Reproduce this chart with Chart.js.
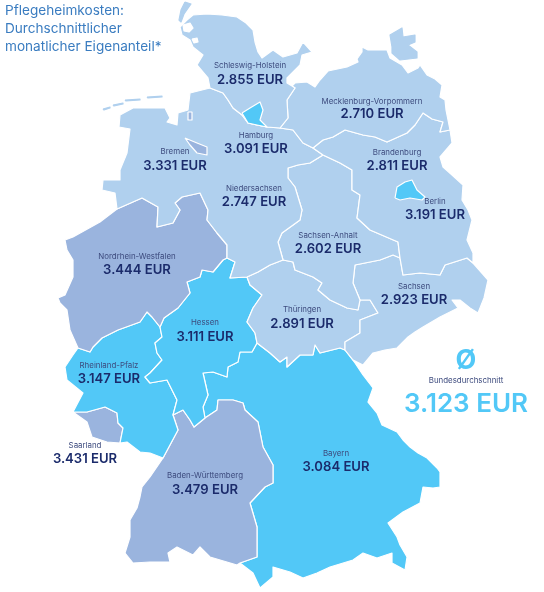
<!DOCTYPE html>
<html lang="de">
<head>
<meta charset="utf-8">
<title>Pflegeheimkosten</title>
<script src="https://cdn.jsdelivr.net/npm/chart.js@4"></script>
<style>
  html, body { margin: 0; padding: 0; background: #fff; }
  canvas { display: block; }
</style>
</head>
<body>
<canvas id="map" width="544" height="592"></canvas>
<script>
// values
const stateNames = ['Schleswig-Holstein', 'Mecklenburg-Vorpommern', 'Hamburg', 'Bremen', 'Brandenburg', 'Berlin',
  'Niedersachsen', 'Nordrhein-Westfalen', 'Sachsen-Anhalt', 'Sachsen', 'Thüringen', 'Hessen',
  'Rheinland-Pfalz', 'Saarland', 'Baden-Württemberg', 'Bayern'];
const stateCosts = [2855, 2710, 3091, 3331, 2811, 3191, 2747, 3444, 2602, 2923, 2891, 3111, 3147, 3431, 3479, 3084];
const nationalLabel = 'Bundesdurchschnitt';
const nationalCost = 3123;
const titleLines = ['Pflegeheimkosten:', 'Durchschnittlicher', 'monatlicher Eigenanteil*'];

// state outlines, x,y pairs in map units
const shSH = [193,15, 207,14, 222,15, 237,17, 246,23, 253,30, 255,42, 258,52, 262,58, 273,50, 283,57, 297,53, 303,42, 312,52, 302,55, 300,65, 287,78, 287,83, 292,86, 295,88, 287,100, 288,118, 280,128, 267,127, 257,125, 248,123, 242,115, 233,108, 228,100, 223,93, 210,88, 208,78, 197,65, 203,55, 193,47, 190,40, 182,35, 180,27, 187,20];
const shMV = [292,86, 295,83, 307,82, 315,87, 320,80, 328,71, 347,67, 358,62, 357,59, 362,52, 362,47, 368,50, 382,50, 387,50, 390,58, 402,65, 408,73, 418,68, 420,65, 427,75, 435,79, 442,85, 440,97, 445,100, 446,110, 450,130, 440,132, 443,122, 432,119, 423,113, 415,125, 407,133, 387,142, 375,137, 363,135, 345,130, 333,137, 323,140, 313,148, 303,143, 293,130, 280,128, 288,118, 287,100, 295,88];
const shHH = [242,113, 250,108, 260,102, 263,110, 260,120, 267,127, 257,125, 248,123];
const shHB = [185,138, 197,143, 207,147, 207,155, 197,153, 190,145];
const shBB = [313,148, 323,140, 333,137, 345,130, 363,135, 375,137, 387,142, 407,133, 415,125, 423,113, 432,119, 443,122, 440,132, 450,130, 452,143, 446,150, 440,157, 443,167, 452,175, 463,185, 462,200, 468,210, 472,220, 467,240, 473,253, 473,263, 467,258, 445,265, 440,275, 420,273, 403,275, 400,258, 398,242, 370,230, 357,218, 360,195, 352,190, 352,170, 340,163, 323,155];
const shBE = [395,198, 397,187, 405,182, 412,180, 417,190, 425,197, 422,200, 410,198, 400,200];
const shNI = [210,88, 223,93, 228,100, 233,108, 242,115, 248,123, 257,125, 267,127, 280,128, 293,130, 303,143, 313,148, 323,155, 310,163, 298,165, 288,168, 288,178, 295,187, 302,210, 300,220, 282,233, 278,242, 283,260, 270,265, 258,272, 247,277, 230,278, 235,262, 227,258, 227,245, 217,233, 207,220, 208,210, 200,193, 182,197, 175,203, 180,210, 173,223, 157,227, 158,207, 142,198, 117,209, 115,193, 102,190, 103,180, 120,180, 120,170, 127,153, 130,129, 119,127, 120,115, 133,108, 165,108, 170,118, 167,122, 177,125, 178,113, 188,110, 190,93];
const shNW = [117,209, 142,198, 158,207, 157,227, 173,223, 180,210, 175,203, 182,197, 200,193, 208,210, 207,220, 217,233, 227,245, 227,258, 223,260, 213,272, 202,270, 200,277, 187,282, 190,293, 178,308, 164,318, 160,327, 152,317, 147,312, 140,322, 118,330, 102,338, 93,347, 90,352, 78,348, 70,330, 67,310, 60,303, 58,298, 65,295, 73,277, 73,260, 67,250, 65,240, 73,237, 100,222];
const shST = [323,155, 340,163, 352,170, 352,190, 360,195, 357,218, 370,230, 398,242, 400,258, 393,255, 380,260, 355,265, 353,283, 360,300, 358,310, 347,308, 330,300, 318,290, 322,283, 313,277, 295,270, 293,262, 283,260, 278,242, 282,233, 300,220, 302,210, 295,187, 288,178, 288,168, 298,165, 310,163];
const shSN = [400,258, 403,275, 420,273, 440,275, 445,265, 467,258, 473,263, 488,280, 484,298, 478,313, 470,308, 460,300, 452,300, 458,308, 440,317, 423,327, 415,332, 408,337, 397,348, 385,350, 373,353, 363,365, 353,360, 345,350, 345,342, 360,333, 360,320, 378,313, 370,300, 360,300, 353,283, 355,265, 380,260, 393,255];
const shTH = [283,260, 293,262, 295,270, 313,277, 322,283, 318,290, 330,300, 347,308, 358,310, 360,300, 370,300, 378,313, 360,320, 360,333, 345,342, 345,350, 340,348, 320,353, 315,345, 313,355, 300,355, 287,367, 287,357, 280,362, 270,353, 257,343, 255,333, 247,322, 253,308, 262,295, 250,285, 247,277, 258,272, 270,265];
const shHE = [223,260, 227,258, 235,262, 230,278, 247,277, 250,285, 262,295, 253,308, 247,322, 255,333, 257,343, 252,352, 240,352, 238,362, 228,367, 227,377, 213,372, 203,373, 208,395, 203,407, 205,418, 194,427, 190,420, 183,410, 173,415, 177,400, 172,390, 167,380, 150,383, 145,377, 150,373, 162,360, 157,353, 155,343, 162,337, 160,327, 164,318, 178,308, 190,293, 187,282, 200,277, 202,270, 213,272];
const shRP = [78,348, 90,352, 93,347, 102,338, 118,330, 140,322, 147,312, 152,317, 160,327, 162,337, 155,343, 157,353, 162,360, 150,373, 145,377, 150,383, 167,380, 172,390, 177,400, 173,415, 178,430, 163,458, 150,453, 140,452, 127,442, 120,443, 123,428, 118,423, 117,413, 105,407, 87,412, 73,412, 83,393, 67,380, 65,367, 73,355];
const shSL = [73,412, 87,412, 105,407, 117,413, 118,423, 123,428, 120,443, 107,442, 92,437, 87,422];
const shBW = [163,458, 178,430, 173,415, 183,410, 190,420, 194,427, 205,418, 217,410, 218,400, 233,400, 243,403, 245,410, 258,422, 263,447, 273,465, 273,483, 265,487, 250,503, 257,527, 257,557, 240,563, 237,565, 210,557, 200,547, 193,555, 177,547, 168,553, 170,562, 150,562, 133,563, 125,553, 130,537, 130,520, 137,508, 140,497, 142,487, 150,477];
const shBY = [257,343, 270,353, 280,362, 287,357, 287,367, 300,355, 313,355, 315,345, 320,353, 340,348, 345,350, 355,363, 363,375, 373,388, 368,402, 377,413, 382,425, 397,432, 403,440, 410,447, 418,453, 427,458, 437,468, 440,472, 440,487, 433,488, 423,487, 420,503, 403,512, 388,523, 397,537, 400,545, 407,557, 405,570, 392,563, 392,553, 377,558, 363,553, 353,560, 330,567, 317,573, 303,578, 290,572, 273,567, 273,577, 260,588, 253,573, 240,563, 257,557, 257,527, 250,503, 265,487, 273,483, 273,465, 263,447, 258,422, 245,410, 243,403, 233,400, 218,400, 217,410, 205,418, 203,407, 208,395, 203,373, 213,372, 227,377, 228,367, 238,362, 240,352, 252,352];
const stateShapes = [shSH, shMV, shHH, shHB, shBB, shBE, shNI, shNW, shST, shSN, shTH, shHE, shRP, shSL, shBW, shBY];

// pieces that belong to a state but are not connected to it
const extraPieces = [
  { state: 'Bremen', shape: [188,112, 192,112, 192,120, 188,120] },
  { state: 'Mecklenburg-Vorpommern', shape: [392,47, 390,35, 402,28, 403,37, 415,35, 415,42, 408,45, 417,52, 417,58, 400,60, 392,53] },
  { state: 'Schleswig-Holstein', shape: [185,2, 191,4, 184,14, 181,22, 179,20, 181,10] },
  { state: 'Niedersachsen', shape: [103,109, 110,107, 110,108, 104,110] },
  { state: 'Niedersachsen', shape: [113,105, 123,103, 123,104, 114,106] },
  { state: 'Niedersachsen', shape: [125,100, 140,99, 140,100, 126,101] },
  { state: 'Niedersachsen', shape: [147,97, 162,96, 162,97, 148,98] }
];
// sea inside the north frisian shallows
const seaHoles = [
  [183,25, 190,23, 193,28, 189,32, 184,31],
  [192,39, 197,38, 198,42, 194,43]
];

// where each state's text sits: name line, value line
const labelX = [250, 372, 256, 175, 397, 435, 254, 137, 328, 414, 302, 205, 109, 85, 205, 336];
const nameY = [66, 102, 136, 152, 153, 202, 189, 257, 236, 287, 310, 323, 366, 446, 476, 454];
const valueY = [80, 114, 149, 166, 166, 215, 202, 270, 249, 300, 324, 337, 379, 459, 490, 467];

const FONT = 'Inter, "Noto Sans", sans-serif';
const NAVY = '#1b2b6b';
const NAME_COLOR = '#3d4b7e';
const CYAN = '#52c8f7';

function costColor(cost) {
  if (cost >= 3300) return '#9ab4de';
  if (cost >= 3000) return CYAN;
  return '#b0d0ee';
}

function formatEur(cost) {
  return cost.toLocaleString('de-DE') + ' EUR';
}

function toPoints(flat) {
  const pts = [];
  for (let i = 0; i < flat.length; i += 2) pts.push({ x: flat[i], y: flat[i + 1] });
  pts.push({ x: flat[0], y: flat[1] }); // close the ring
  return pts;
}

function shapeDataset(flat, color, stroke, order) {
  return {
    data: toPoints(flat),
    showLine: true,
    fill: 'shape',
    backgroundColor: color,
    borderColor: stroke,
    borderWidth: 1.2,
    borderJoinStyle: 'round',
    pointRadius: 0,
    order
  };
}

function buildDatasets() {
  const datasets = [];
  stateNames.forEach((name, i) => {
    // small city states have to sit on top of their neighbours
    const small = name === 'Hamburg' || name === 'Bremen' || name === 'Berlin';
    datasets.push(shapeDataset(stateShapes[i], costColor(stateCosts[i]), '#ffffff', small ? 1 : 2));
  });
  extraPieces.forEach(p => {
    const color = costColor(stateCosts[stateNames.indexOf(p.state)]);
    const stroke = p.state === 'Bremen' ? '#ffffff' : color;
    datasets.push(shapeDataset(p.shape, color, stroke, 1));
  });
  seaHoles.forEach(h => datasets.push(shapeDataset(h, '#ffffff', '#ffffff', 0)));
  return datasets;
}

const mapLabels = {
  id: 'mapLabels',
  afterDatasetsDraw(chart) {
    const { ctx, scales: { x, y } } = chart;
    const put = (text, px, py, font, color, align = 'center') => {
      ctx.font = font;
      ctx.fillStyle = color;
      ctx.textAlign = align;
      ctx.textBaseline = 'middle';
      ctx.fillText(text, x.getPixelForValue(px), y.getPixelForValue(py));
    };
    ctx.save();
    stateNames.forEach((name, i) => {
      put(name, labelX[i], nameY[i], '400 7.9px ' + FONT, NAME_COLOR);
      put(formatEur(stateCosts[i]), labelX[i], valueY[i], '600 13.1px ' + FONT, NAVY);
    });
    titleLines.forEach((line, i) => put(line, 5, 11 + i * 18, '400 13.6px ' + FONT, '#3a7cc0', 'left'));
    put('Ø', 466, 361, '700 27px ' + FONT, CYAN);
    put(nationalLabel, 466, 381, '400 7.9px ' + FONT, NAME_COLOR);
    put(formatEur(nationalCost), 466, 404, '600 26px ' + FONT, CYAN);
    ctx.restore();
  }
};

new Chart(document.getElementById('map'), {
  type: 'scatter',
  data: { datasets: buildDatasets() },
  options: {
    responsive: false,
    animation: false,
    layout: { padding: 0 },
    plugins: { legend: { display: false }, tooltip: { enabled: false } },
    scales: {
      x: { type: 'linear', min: 0, max: 544, display: false },
      y: { type: 'linear', min: 0, max: 592, reverse: true, display: false }
    }
  },
  plugins: [mapLabels]
});
</script>
</body>
</html>
